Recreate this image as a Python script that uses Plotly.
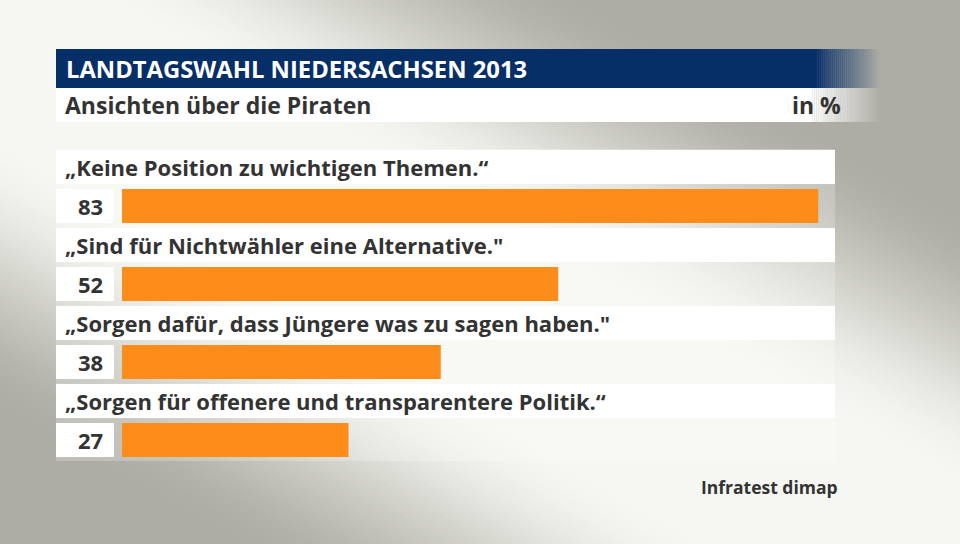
import math
import plotly.graph_objects as go

# ---- data ----
categories = [
    "„Keine Position zu wichtigen Themen.“",
    "„Sind für Nichtwähler eine Alternative.\"",
    "„Sorgen dafür, dass Jüngere was zu sagen haben.\"",
    "„Sorgen für offenere und transparentere Politik.“",
]
values = [83, 52, 38, 27]
title = "LANDTAGSWAHL NIEDERSACHSEN 2013"
subtitle = "Ansichten über die Piraten"
unit = "in %"
source = "Infratest dimap"

# ---- layout geometry (pixels) ----
W, H = 960, 544
L, R = 122, 83
PW = W - L - R
FONT = "Open Sans"
BLUE = "#062e67"
ORANGE = "#fd8c1a"
TXT = "#333333"


def xp(px):
    return (px - L) / PW


def yp(py):
    return 1 - py / H


def lerp(c1, c2, t):
    return "rgb(%d,%d,%d)" % tuple(round(a + (b - a) * t) for a, b in zip(c1, c2))


def smooth(t):
    t = max(0.0, min(1.0, t))
    return t * t * (3 - 2 * t)


shapes = []
# diagonal light band background (light along top-left -> bottom-right diagonal)
GRAY = (174, 173, 165)
LIGHT = (246, 247, 242)
ln = math.hypot(W, H)
ux, uy = W / ln, H / ln
nx, ny = -uy, ux
cx, cy = W / 2, H / 2
step = 5
s = -340
while s < 420:
    s0, s1 = s, s + step + 0.8
    sm = s + step / 2
    if sm < 0:
        t = smooth((-sm - 50) / 240)
    else:
        t = smooth((sm - 120) / 240)
    col = lerp(LIGHT, GRAY, t)
    pts = []
    for (ss, ll) in [(s0, -1300), (s0, 1300), (s1, 1300), (s1, -1300)]:
        px_ = cx + ss * nx + ll * ux
        py_ = cy + ss * ny + ll * uy
        pts.append("%.5f,%.5f" % (xp(px_), yp(py_)))
    path = "M" + " L".join(pts) + " Z"
    shapes.append(dict(type="path", xref="paper", yref="paper", layer="below",
                       path=path, fillcolor=col, line=dict(width=0)))
    s += step

# title bar + subtitle bar
shapes.append(dict(type="rect", xref="paper", yref="paper", x0=xp(56), x1=xp(815),
                   y0=yp(88), y1=yp(49), fillcolor=BLUE, line=dict(width=0)))
shapes.append(dict(type="rect", xref="paper", yref="paper", x0=xp(56), x1=xp(810),
                   y0=yp(122), y1=yp(88), fillcolor="white", line=dict(width=0)))
steps = 32
for k in range(steps):
    a = 1 - (k + 0.5) / steps
    x0 = 815 + (880 - 815) * k / steps
    x1 = 815 + (880 - 815) * (k + 1) / steps
    shapes.append(dict(type="rect", xref="paper", yref="paper", x0=xp(x0), x1=xp(x1),
                       y0=yp(88), y1=yp(49), fillcolor=BLUE, opacity=a, line=dict(width=0)))
    x0 = 810 + (880 - 810) * k / steps
    x1 = 810 + (880 - 810) * (k + 1) / steps
    shapes.append(dict(type="rect", xref="paper", yref="paper", x0=xp(x0), x1=xp(x1),
                       y0=yp(122), y1=yp(88), fillcolor="white", opacity=a, line=dict(width=0)))

annotations = [
    dict(text=title, xref="paper", yref="paper", x=xp(64), y=yp(69), xanchor="left",
         yanchor="middle", showarrow=False,
         font=dict(family=FONT, size=23.8, color="white", weight=700)),
    dict(text=subtitle, xref="paper", yref="paper", x=xp(63), y=yp(105), xanchor="left",
         yanchor="middle", showarrow=False,
         font=dict(family=FONT, size=23, color=TXT, weight=700)),
    dict(text=unit, xref="paper", yref="paper", x=xp(843), y=yp(105), xanchor="right",
         yanchor="middle", showarrow=False,
         font=dict(family=FONT, size=23, color=TXT, weight=700)),
    dict(text=source, xref="paper", yref="paper", x=xp(840), y=yp(487), xanchor="right",
         yanchor="middle", showarrow=False,
         font=dict(family=FONT, size=17.5, color=TXT, weight=700)),
]

pos = list(range(len(values)))
for i, (cat, v) in enumerate(zip(categories, values)):
    # light strip behind bar row
    shapes.append(dict(type="rect", xref="paper", yref="y", layer="below",
                       x0=xp(56), x1=xp(835), y0=i - 0.27, y1=i + 0.27,
                       fillcolor="rgba(255,255,255,0.22)", line=dict(width=0)))
    # label box
    shapes.append(dict(type="rect", xref="paper", yref="y", layer="below",
                       x0=xp(56), x1=xp(835), y0=i - 0.5 - 0.222, y1=i - 0.5 + 0.222,
                       fillcolor="white", line=dict(width=0)))
    # value box
    shapes.append(dict(type="rect", xref="paper", yref="y", layer="below",
                       x0=xp(56), x1=xp(114), y0=i - 0.218, y1=i + 0.218,
                       fillcolor="white", line=dict(width=0)))
    annotations.append(dict(text=cat, xref="paper", yref="y", x=xp(63), y=i - 0.5,
                            xanchor="left", yanchor="middle", showarrow=False,
                            font=dict(family=FONT, size=22, color=TXT, weight=700)))
    annotations.append(dict(text=str(v), xref="paper", yref="y", x=xp(105), y=i,
                            xanchor="right", yanchor="middle", showarrow=False,
                            font=dict(family=FONT, size=22, color=TXT, weight=700)))

fig = go.Figure(go.Bar(x=values, y=pos, orientation="h", width=0.436,
                       marker=dict(color=ORANGE, line=dict(width=0)),
                       hoverinfo="skip"))

fig.update_layout(
    width=W, height=H,
    margin=dict(l=L, r=R, t=0, b=0, pad=0),
    paper_bgcolor="rgb(174,173,165)",
    plot_bgcolor="rgba(0,0,0,0)",
    showlegend=False,
    shapes=shapes,
    annotations=annotations,
    xaxis=dict(range=[0, 90], visible=False, fixedrange=True),
    yaxis=dict(range=[(H - 206) / 78, -206 / 78], visible=False, fixedrange=True),
)

fig.write_html("out.html", config={"displayModeBar": False},
               post_script="document.body.style.margin='0';document.body.style.overflow='hidden';")
